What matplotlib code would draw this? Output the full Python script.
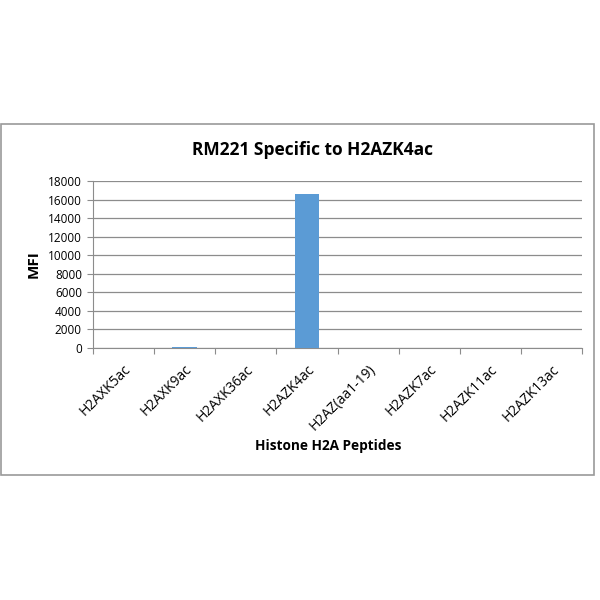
import matplotlib.pyplot as plt
from matplotlib.patches import Rectangle
import numpy as np

peptides = ['H2AXK5ac', 'H2AXK9ac', 'H2AXK36ac', 'H2AZK4ac',
            'H2AZ(aa1-19)', 'H2AZK7ac', 'H2AZK11ac', 'H2AZK13ac']
mfi = [0, 120, 0, 16600, 0, 0, 0, 0]
yticks = np.arange(0, 18001, 2000)

plt.rcParams['font.family'] = ['Open Sans', 'DejaVu Sans']

fig = plt.figure(figsize=(6, 6), dpi=100)
ax = fig.add_axes([93/600, 1 - 348/600, (582 - 93)/600, (348 - 181)/600])

# outer chart border like Excel
fig.patches.append(Rectangle((1/600, 1 - 475/600), 593/600, 351/600,
                             transform=fig.transFigure, fill=False,
                             edgecolor='#9a9a9a', linewidth=1.2))

x = np.arange(len(peptides))
ax.bar(x, mfi, width=0.4, color='#5B9BD5', zorder=3)

ax.set_xlim(-0.5, len(peptides) - 0.5)
ax.set_ylim(0, 18000)
ax.set_yticks(yticks)
ax.set_yticklabels([str(v) for v in yticks], fontsize=8.5)
ax.yaxis.grid(True, color='#8c8c8c', linewidth=0.9, zorder=0)
ax.set_axisbelow(True)

# category boundaries carry the ticks, labels sit at centres
ax.set_xticks(np.arange(-0.5, len(peptides)), minor=False)
ax.set_xticklabels([])
ax.set_xticks(x, minor=True)
ax.set_xticklabels(peptides, minor=True, rotation=45, ha='right',
                   rotation_mode='anchor', fontsize=10)
ax.tick_params(axis='x', which='minor', length=0, pad=10)
ax.tick_params(axis='x', which='major', length=4, color='#8c8c8c')
ax.tick_params(axis='y', length=4, color='#8c8c8c', pad=4)

for s in ['top', 'right']:
    ax.spines[s].set_visible(False)
for s in ['left', 'bottom']:
    ax.spines[s].set_color('#8c8c8c')

fig.text(312/600, 1 - 150/600, 'RM221 Specific to H2AZK4ac', fontsize=12.5,
         fontweight='bold', ha='center', va='center')
fig.text(34/600, 1 - 264/600, 'MFI', fontsize=11, fontweight='bold',
         rotation=90, ha='center', va='center')
fig.text(328/600, 1 - 446/600, 'Histone H2A Peptides', fontsize=9.8,
         fontweight='bold', ha='center', va='center')

fig.savefig('out.png', dpi=100)
